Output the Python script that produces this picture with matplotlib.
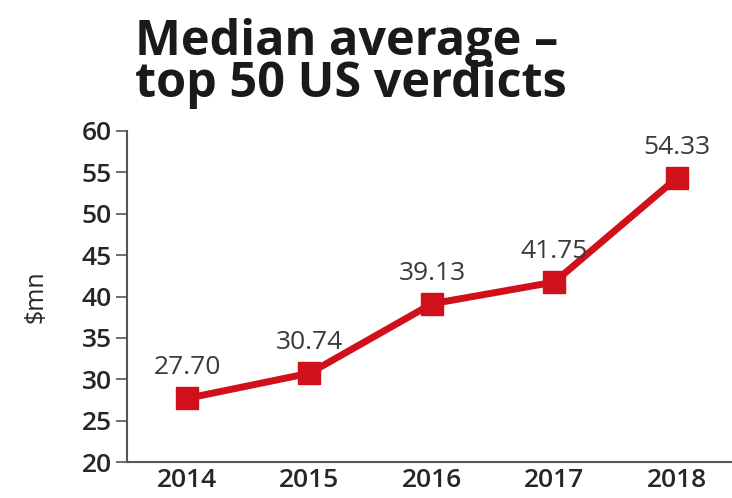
import matplotlib
matplotlib.use("Agg")
import matplotlib.pyplot as plt

years = [2014, 2015, 2016, 2017, 2018]
values = [27.70, 30.74, 39.13, 41.75, 54.33]
value_labels = ["27.70", "30.74", "39.13", "41.75", "54.33"]
yticks = [20, 25, 30, 35, 40, 45, 50, 55, 60]

plt.rcParams['font.family'] = ['Open Sans', 'DejaVu Sans']

fig = plt.figure(figsize=(7.32, 4.98), dpi=100)
ax = fig.add_axes([0.1735, 0.072, 0.8265, 0.665])

red = "#d0101b"
ax.plot(years, values, color=red, linewidth=5, marker='s', markersize=16,
        markerfacecolor=red, markeredgecolor=red, solid_capstyle='butt', zorder=3)

for x, v, lab in zip(years, values, value_labels):
    ax.annotate(lab, (x, v), xytext=(0, 13), textcoords='offset points',
                ha='center', va='bottom', fontsize=19, color='#3a3a3a')

ax.set_xlim(2013.51, 2018.45)
ax.set_ylim(20, 60)
ax.set_yticks(yticks)
ax.set_xticks(years)
ax.set_xticklabels([str(y) for y in years])

for s in ['top', 'right']:
    ax.spines[s].set_visible(False)
for s in ['left', 'bottom']:
    ax.spines[s].set_color('#555555')
    ax.spines[s].set_linewidth(1.5)

ax.tick_params(axis='y', direction='out', length=8, width=1.2, color='#555555',
               labelsize=19, labelcolor='#262626', pad=3)
ax.tick_params(axis='x', length=0, labelsize=19, labelcolor='#262626', pad=4)
for t in ax.get_yticklabels() + ax.get_xticklabels():
    t.set_fontweight('semibold')

ax.set_ylabel("$mn", fontsize=18, color='#262626', labelpad=24)

fig.text(0.185, 0.872, "Median average –\ntop 50 US verdicts", fontsize=35,
         fontweight='bold', color='#1a1a1a', ha='left', va='center',
         linespacing=0.82)

fig.savefig("out.png", dpi=100)
